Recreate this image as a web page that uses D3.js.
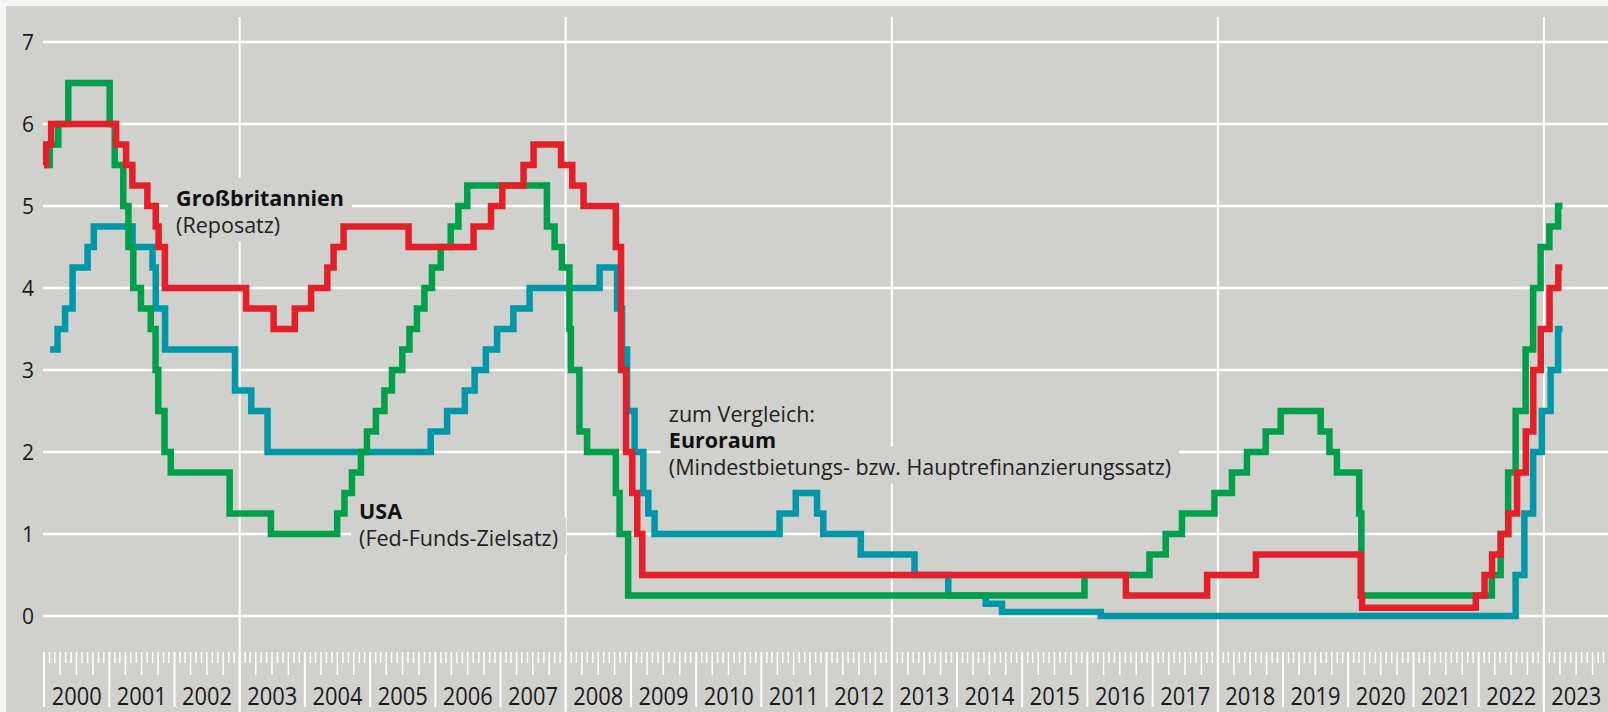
<!DOCTYPE html>
<html>
<head>
<meta charset="utf-8">
<script src="https://cdn.jsdelivr.net/npm/d3@7"></script>
<style>
  html, body { margin: 0; padding: 0; background: #f4f4f4; }
  svg { display: block; font-family: "Open Sans", sans-serif; }
</style>
</head>
<body>
<svg id="chart" width="1608" height="712"></svg>
<script>
// Leitzinsen: date of change, new rate (%)
const usa = [
  ["2000-01-01", 5.5], ["2000-02-02", 5.75], ["2000-03-21", 6.0], ["2000-05-16", 6.5],
  ["2001-01-03", 6.0], ["2001-01-31", 5.5], ["2001-03-20", 5.0], ["2001-04-18", 4.5],
  ["2001-05-15", 4.0], ["2001-06-27", 3.75], ["2001-08-21", 3.5], ["2001-09-17", 3.0],
  ["2001-10-02", 2.5], ["2001-11-06", 2.0], ["2001-12-11", 1.75], ["2002-11-06", 1.25],
  ["2003-06-25", 1.0], ["2004-06-30", 1.25], ["2004-08-10", 1.5], ["2004-09-21", 1.75],
  ["2004-11-10", 2.0], ["2004-12-14", 2.25], ["2005-02-02", 2.5], ["2005-03-22", 2.75],
  ["2005-05-03", 3.0], ["2005-06-30", 3.25], ["2005-08-09", 3.5], ["2005-09-20", 3.75],
  ["2005-11-01", 4.0], ["2005-12-13", 4.25], ["2006-01-31", 4.5], ["2006-03-28", 4.75],
  ["2006-05-10", 5.0], ["2006-06-29", 5.25], ["2007-09-18", 4.75], ["2007-10-31", 4.5],
  ["2007-12-11", 4.25], ["2008-01-22", 3.5], ["2008-01-30", 3.0], ["2008-03-18", 2.25],
  ["2008-04-30", 2.0], ["2008-10-08", 1.5], ["2008-10-29", 1.0], ["2008-12-16", 0.25],
  ["2015-12-16", 0.5], ["2016-12-14", 0.75], ["2017-03-15", 1.0], ["2017-06-14", 1.25],
  ["2017-12-13", 1.5], ["2018-03-21", 1.75], ["2018-06-13", 2.0], ["2018-09-26", 2.25],
  ["2018-12-19", 2.5], ["2019-07-31", 2.25], ["2019-09-18", 2.0], ["2019-10-30", 1.75],
  ["2020-03-03", 1.25], ["2020-03-15", 0.25], ["2022-03-16", 0.5], ["2022-05-04", 1.0],
  ["2022-06-15", 1.75], ["2022-07-27", 2.5], ["2022-09-21", 3.25], ["2022-11-02", 4.0],
  ["2022-12-14", 4.5], ["2023-02-01", 4.75], ["2023-03-22", 5.0]
];

const uk = [
  ["2000-01-01", 5.5], ["2000-01-13", 5.75], ["2000-02-10", 6.0], ["2001-02-08", 5.75],
  ["2001-04-05", 5.5], ["2001-05-10", 5.25], ["2001-08-02", 5.0], ["2001-09-18", 4.75],
  ["2001-10-04", 4.5], ["2001-11-08", 4.0], ["2003-02-06", 3.75], ["2003-07-10", 3.5],
  ["2003-11-06", 3.75], ["2004-02-05", 4.0], ["2004-05-06", 4.25], ["2004-06-10", 4.5],
  ["2004-08-05", 4.75], ["2005-08-04", 4.5], ["2006-08-03", 4.75], ["2006-11-09", 5.0],
  ["2007-01-11", 5.25], ["2007-05-10", 5.5], ["2007-07-05", 5.75], ["2007-12-06", 5.5],
  ["2008-02-07", 5.25], ["2008-04-10", 5.0], ["2008-10-08", 4.5], ["2008-11-06", 3.0],
  ["2008-12-04", 2.0], ["2009-01-08", 1.5], ["2009-02-05", 1.0], ["2009-03-05", 0.5],
  ["2016-08-04", 0.25], ["2017-11-02", 0.5], ["2018-08-02", 0.75], ["2020-03-11", 0.25],
  ["2020-03-19", 0.1], ["2021-12-16", 0.25], ["2022-02-03", 0.5], ["2022-03-17", 0.75],
  ["2022-05-05", 1.0], ["2022-06-16", 1.25], ["2022-08-04", 1.75], ["2022-09-22", 2.25],
  ["2022-11-03", 3.0], ["2022-12-15", 3.5], ["2023-02-02", 4.0], ["2023-03-23", 4.25]
];

const euro = [
  ["2000-02-04", 3.25], ["2000-03-17", 3.5], ["2000-04-28", 3.75], ["2000-06-09", 4.25],
  ["2000-09-01", 4.5], ["2000-10-06", 4.75], ["2001-05-11", 4.5], ["2001-08-31", 4.25],
  ["2001-09-18", 3.75], ["2001-11-09", 3.25], ["2002-12-06", 2.75], ["2003-03-07", 2.5],
  ["2003-06-06", 2.0], ["2005-12-06", 2.25], ["2006-03-08", 2.5], ["2006-06-15", 2.75],
  ["2006-08-09", 3.0], ["2006-10-11", 3.25], ["2006-12-13", 3.5], ["2007-03-14", 3.75],
  ["2007-06-13", 4.0], ["2008-07-09", 4.25], ["2008-10-15", 3.75], ["2008-11-12", 3.25],
  ["2008-12-10", 2.5], ["2009-01-21", 2.0], ["2009-03-11", 1.5], ["2009-04-08", 1.25],
  ["2009-05-13", 1.0], ["2011-04-13", 1.25], ["2011-07-13", 1.5], ["2011-11-09", 1.25],
  ["2011-12-14", 1.0], ["2012-07-11", 0.75], ["2013-05-08", 0.5], ["2013-11-13", 0.25],
  ["2014-06-11", 0.15], ["2014-09-10", 0.05], ["2016-03-16", 0.0], ["2022-07-27", 0.5],
  ["2022-09-14", 1.25], ["2022-11-02", 2.0], ["2022-12-21", 2.5], ["2023-02-08", 3.0],
  ["2023-03-22", 3.5]
];

const endDate = "2023-04-15";
const yTicks = [0, 1, 2, 3, 4, 5, 6, 7];
const years = d3.range(2000, 2024);
const gridYears = [2003, 2008, 2013, 2018, 2023];

const COLORS = { euro: "#0097a9", usa: "#00a04b", uk: "#e3202a" };
const PANEL = "#d0d0cc";

// drawn bottom to top: euro, usa, uk
const seriesList = [
  { key: "euro", values: euro },
  { key: "usa", values: usa },
  { key: "uk", values: uk }
];

const notes = [
  { date: "2002-01-10", value: 5.0, lines: [["Großbritannien", true], ["(Reposatz)", false]] },
  { date: "2004-10-31", value: 1.18, lines: [["USA", true], ["(Fed-Funds-Zielsatz)", false]] },
  { date: "2009-08-01", value: 2.37, lines: [["zum Vergleich:", false], ["Euroraum", true],
    ["(Mindestbietungs- bzw. Hauptrefinanzierungssatz)", false]] }
];

const parse = d3.utcParse("%Y-%m-%d");
const W = 1608, H = 712;

const x = d3.scaleUtc()
  .domain([Date.UTC(2000, 0, 1), Date.UTC(2024, 0, 1)])
  .range([44, 1609]);
const y = d3.scaleLinear().domain([0, 7]).range([616, 42]);

const svg = d3.select("#chart");

svg.append("rect")
  .attr("x", 6).attr("y", 6)
  .attr("width", W - 6).attr("height", H - 6)
  .attr("fill", PANEL);

// horizontal grid
svg.append("g")
  .selectAll("line")
  .data(yTicks)
  .join("line")
  .attr("x1", 43).attr("x2", W)
  .attr("y1", d => y(d)).attr("y2", d => y(d))
  .attr("stroke", "#fff")
  .attr("stroke-width", 2.5);

// 5-year vertical grid
svg.append("g")
  .selectAll("line")
  .data(gridYears)
  .join("line")
  .attr("x1", d => x(Date.UTC(d, 0, 1))).attr("x2", d => x(Date.UTC(d, 0, 1)))
  .attr("y1", 17).attr("y2", H)
  .attr("stroke", "#fff")
  .attr("stroke-width", 2);

// ruler: months, quarters, years
const rulerTop = 652;
const months = d3.utcMonth.range(new Date(Date.UTC(2000, 0, 1)), new Date(Date.UTC(2024, 0, 1)));
svg.append("g")
  .selectAll("line")
  .data(months)
  .join("line")
  .attr("x1", d => x(d)).attr("x2", d => x(d))
  .attr("y1", rulerTop)
  .attr("y2", d => {
    const m = d.getUTCMonth();
    if (m === 0) return 707;
    return m % 3 === 0 ? 675 : 663;
  })
  .attr("stroke", "#fff")
  .attr("stroke-width", d => d.getUTCMonth() === 0 ? 2 : 1.5);

// year labels
svg.append("g")
  .selectAll("text")
  .data(years)
  .join("text")
  .attr("x", d => x(Date.UTC(d, 6, 2)))
  .attr("y", 705)
  .attr("text-anchor", "middle")
  .attr("font-size", 26)
  .attr("fill", "#1a1a1a")
  .attr("textLength", 50)
  .attr("lengthAdjust", "spacingAndGlyphs")
  .text(d => d);

// y labels
svg.append("g")
  .selectAll("text")
  .data(yTicks)
  .join("text")
  .attr("x", 28)
  .attr("y", d => y(d) + 7.5)
  .attr("text-anchor", "middle")
  .attr("font-size", 21)
  .attr("fill", "#1a1a1a")
  .text(d => d);

const boxLayer = svg.append("g");
const lineLayer = svg.append("g");
const textLayer = svg.append("g");

const line = d3.line()
  .x(d => x(d.date))
  .y(d => y(d.v))
  .curve(d3.curveStepAfter);

seriesList.forEach(s => {
  const pts = s.values.map(([d, v]) => ({ date: parse(d), v }));
  pts.push({ date: parse(endDate), v: pts[pts.length - 1].v });
  lineLayer.append("path")
    .datum(pts)
    .attr("d", line)
    .attr("fill", "none")
    .attr("stroke", COLORS[s.key])
    .attr("stroke-width", 6.5)
    .attr("stroke-linejoin", "miter");
});

// annotations with panel-coloured boxes hiding the grid
notes.forEach(n => {
  const x0 = x(parse(n.date));
  const y0 = y(n.value);
  n.lines.forEach(([txt, bold], i) => {
    const t = textLayer.append("text")
      .attr("x", x0)
      .attr("y", y0 + i * 26.5)
      .attr("font-size", 21.5)
      .attr("font-weight", bold ? 700 : 400)
      .attr("fill", bold ? "#111" : "#222")
      .text(txt);
    const b = t.node().getBBox();
    boxLayer.append("rect")
      .attr("x", b.x - 8).attr("y", b.y - 5)
      .attr("width", b.width + 16).attr("height", b.height + 8)
      .attr("fill", PANEL);
  });
});
</script>
</body>
</html>
